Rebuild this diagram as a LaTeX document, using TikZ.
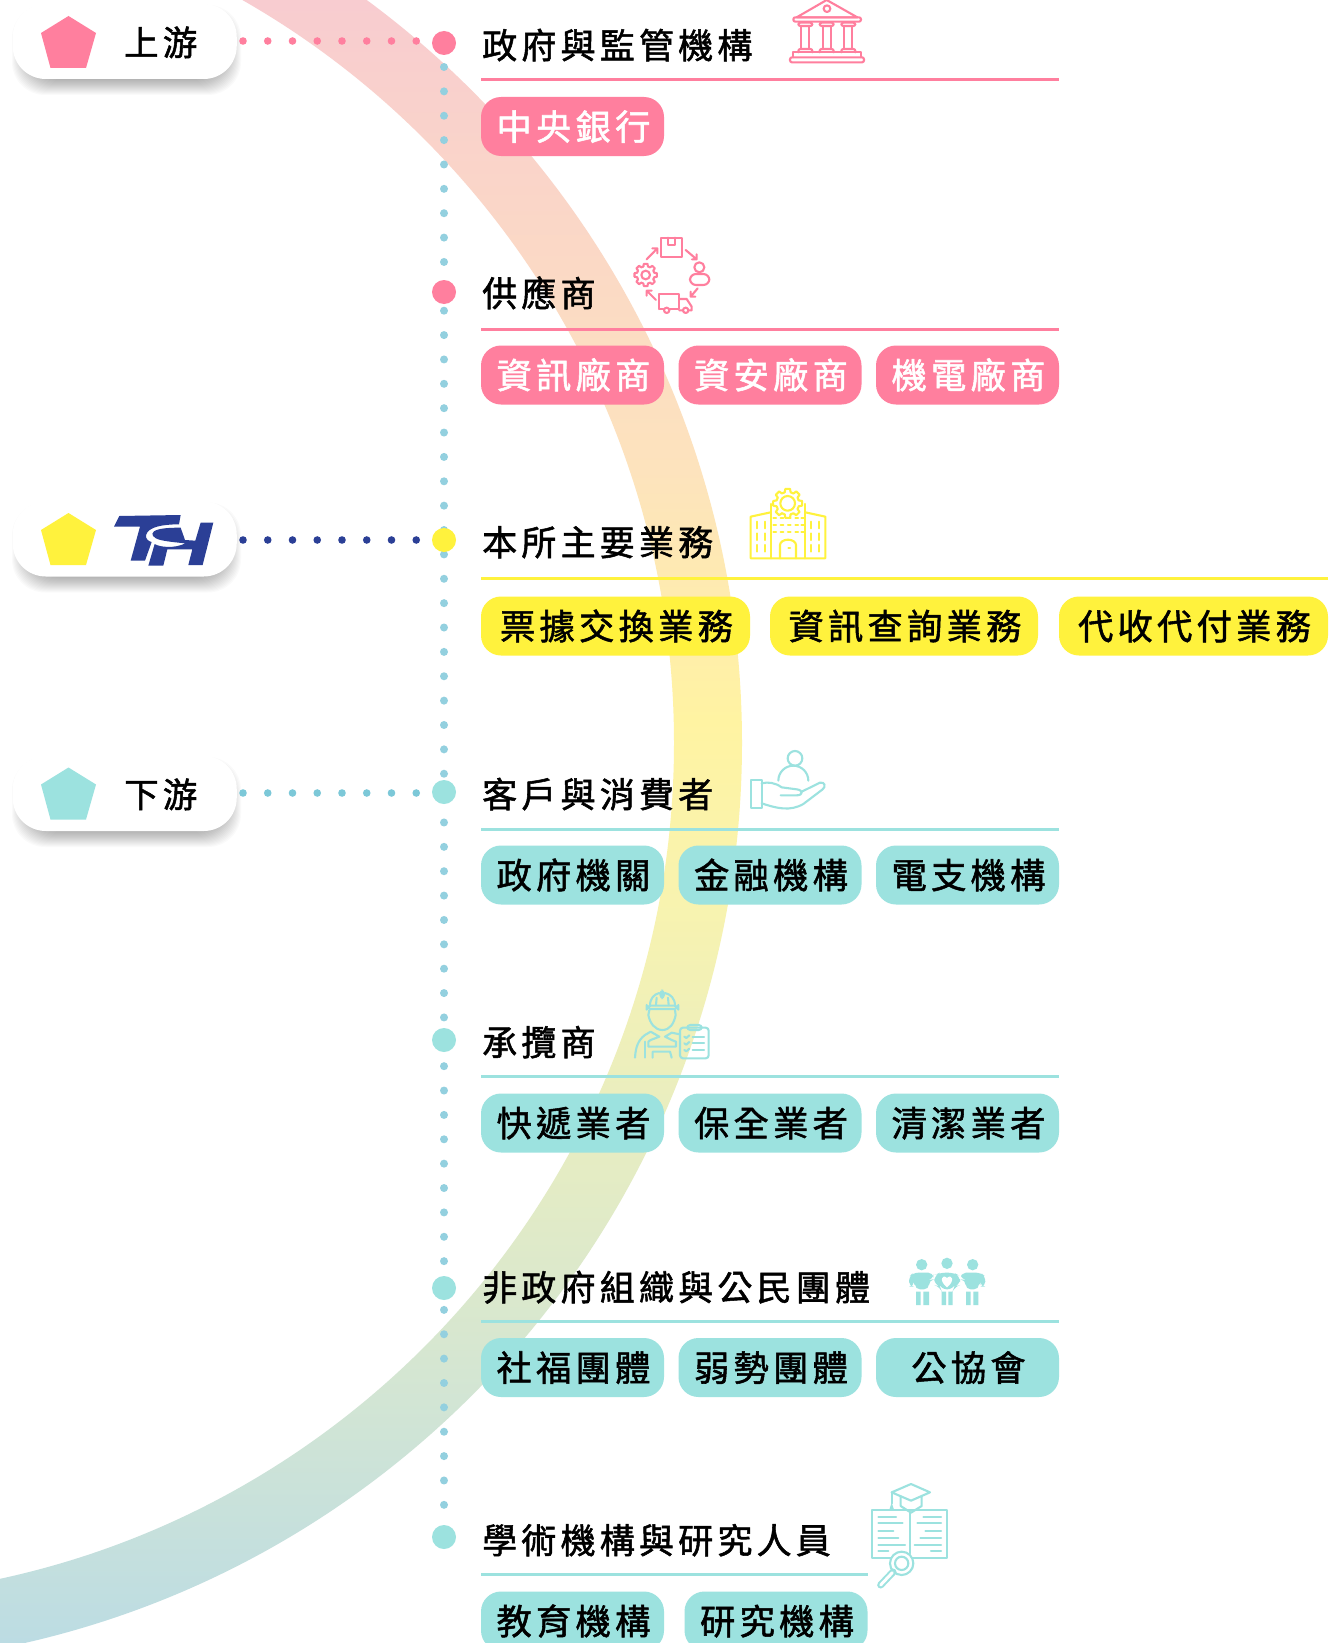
\documentclass[tikz,border=0pt]{standalone}
\usepackage{fontspec}
\usetikzlibrary{calc}
\newfontfamily\cjk[LetterSpace=12,FakeBold=1.5]{Noto Sans CJK TC}
\definecolor{pinkc}{HTML}{FF7F9E}
\definecolor{yellowc}{HTML}{FFF23D}
\definecolor{tealc}{HTML}{9CE2DF}
\definecolor{navyc}{HTML}{2B3F96}
\definecolor{dotc}{HTML}{93D0DF}
\definecolor{hdotc}{HTML}{7CC8D8}
\definecolor{bA}{HTML}{F8CCD0}
\definecolor{bB}{HTML}{FDE3BD}
\definecolor{bC}{HTML}{FFF3A2}
\definecolor{bD}{HTML}{F8F3AF}
\definecolor{bE}{HTML}{EAEEBF}
\definecolor{bF}{HTML}{D2E5D4}
\definecolor{bG}{HTML}{BCDCE3}
\pgfdeclareverticalshading{bandshade}{100bp}{color(0bp)=(bG); color(25bp)=(bG); color(32.4bp)=(bF); color(41.5bp)=(bE); color(47.6bp)=(bD); color(53.1bp)=(bC); color(60.7bp)=(bB); color(75bp)=(bA); color(100bp)=(bA)}
\tikzset{
  pill/.style={rounded corners=20pt,minimum height=59pt,inner sep=0pt,font=\cjk\fontsize{35.3}{35}\selectfont,text height=31pt,text depth=4pt},
  wpill/.style={pill,fill=white,rounded corners=33pt,minimum width=224pt,minimum height=75pt},
  ttl/.style={anchor=west,inner sep=0pt,text=black,font=\cjk\fontsize{35}{35}\selectfont,text height=31pt,text depth=4pt},
  lbl/.style={ttl,font=\cjk\fontsize{34.5}{35}\selectfont},
  hub/.style={circle,minimum size=24pt,inner sep=0pt},
  rule/.style={line width=3pt},
  hdots/.style={line width=7.6pt,line cap=round,dash pattern=on 0pt off 24.75pt},
  vdots/.style={dotc,line width=8pt,line cap=round,dash pattern=on 0pt off 24.37pt},
  icon/.style={line width=2.1pt,line join=round,line cap=round},
}
\newcommand\lblshadow[1]{\foreach \i in {0,...,15}{\fill[black,opacity=.02,rounded corners=33pt] (27-\i,#1+16-\i) rectangle (226+\i,#1+76+\i);}}
\newcommand\gearicon[3]{\begin{scope}[shift={(#1,#2)}]\foreach \a in {0,45,...,315}{\draw (\a-15:.78*#3) -- (\a-9:#3) -- (\a+9:#3) -- (\a+15:.78*#3) -- (\a+30:.78*#3);}\end{scope}}
\begin{document}
\begin{tikzpicture}[x=1pt,y=-1pt]
\useasboundingbox (0,0) rectangle (1340,1643);
\clip (0,0) rectangle (1340,1643);
\fill[white] (0,0) rectangle (1340,1643);
% band
\begin{scope}[even odd rule]
\clip (-181,743) circle (923) (-181,743) circle (855);
\shade[shading=bandshade] (0,0) rectangle (1340,1643);
\end{scope}
% vertical dots
\coordinate (vtop) at (444,67);
\coordinate (vbot) at (444,1507);
\draw[vdots] (vtop) -- (vbot);
% hubs
\node[hub,fill=pinkc] (c1) at (444,43) {};
\node[hub,fill=pinkc] (c2) at (444,292) {};
\node[hub,fill=yellowc] (c3) at (444,540) {};
\node[hub,fill=tealc] (c4) at (444,792) {};
\node[hub,fill=tealc] (c5) at (444,1040) {};
\node[hub,fill=tealc] (c6) at (444,1288) {};
\node[hub,fill=tealc] (c7) at (444,1537) {};
% left labels
\lblshadow{4}\lblshadow{501.5}\lblshadow{756}
\node[wpill] (up) at (124.75,41.5) {};
\node[wpill] (mid) at (124.75,539) {};
\node[wpill] (down) at (124.75,793.5) {};
\coordinate (h1) at (243,41);
\coordinate (h2) at (243,540);
\coordinate (h3) at (243,793);
\begin{scope}
\clip (236,0) rectangle (432,1643);
\draw[hdots,pinkc] (h1) -- (c1.center |- h1);
\draw[hdots,navyc] (h2) -- (c3.center |- h2);
\draw[hdots,hdotc] (h3) -- (c4.center |- h3);
\end{scope}
\fill[pinkc] (68.5,16) -- (96,33) -- (86,68) -- (50.5,68) -- (41,33) -- cycle;
\fill[yellowc] (68.5,513) -- (96,530) -- (86,565) -- (50.5,565) -- (41,530) -- cycle;
\fill[tealc] (68.5,767.5) -- (96,784.5) -- (86,819.5) -- (50.5,819.5) -- (41,784.5) -- cycle;
\node[lbl] (t-up) at (124,42) {上游};
\node[lbl] (t-down) at (124,794) {下游};
% logo
\begin{scope}[shift={(110,510)},scale=.3333]
\fill[navyc] (28,18) -- (212,15) -- (207,43) .. controls (160,43) and (115,50) .. (108,75) .. controls (106,88) and (118,95) .. (125,96) -- (105,152) -- (62,152) -- (90,50) -- (12,50) -- cycle;
\fill[navyc] (212,53) -- (225,90) -- (256,92) -- (272,38) -- (310,38) -- (278,165) -- (235,165) -- (247,118) -- (172,118) -- (160,167) -- (115,167) -- (134,102) .. controls (150,112) and (195,116) .. (226,100) .. controls (195,97) and (165,94) .. (148,89) .. controls (128,83) and (122,72) .. (132,64) .. controls (145,55) and (175,53) .. (212,53) -- cycle;
\end{scope}
% group 1
\node[ttl] (t1) at (482,45) {政府與監管機構};
\coordinate (r1a) at (481,80);\coordinate (r1b) at (1059,80);
\draw[rule,pinkc] (r1a) -- (r1b);
\node[pill,fill=pinkc,text=white,minimum width=183pt] (p11) at (572.5,126.5) {\hspace{2pt}中央銀行};
% group 2
\node[ttl] (t2) at (482,293) {供應商};
\coordinate (r2a) at (481,329);\coordinate (r2b) at (1059,329);
\draw[rule,pinkc] (r2a) -- (r2b);
\node[pill,fill=pinkc,text=white,minimum width=183pt] (p21) at (572.5,375) {\hspace{2pt}資訊廠商};
\node[pill,fill=pinkc,text=white,minimum width=183pt] (p22) at (770,375) {\hspace{2pt}資安廠商};
\node[pill,fill=pinkc,text=white,minimum width=183pt] (p23) at (967.5,375) {\hspace{2pt}機電廠商};
% group 3
\node[ttl] (t3) at (482,542) {本所主要業務};
\coordinate (r3a) at (481,578);\coordinate (r3b) at (1328,578);
\draw[rule,yellowc] (r3a) -- (r3b);
\node[pill,fill=yellowc,minimum width=269pt] (p31) at (615.5,626) {\hspace{2pt}票據交換業務};
\node[pill,fill=yellowc,minimum width=268pt] (p32) at (904,626) {\hspace{2pt}資訊查詢業務};
\node[pill,fill=yellowc,minimum width=269pt] (p33) at (1193.5,626) {\hspace{2pt}代收代付業務};
% group 4
\node[ttl] (t4) at (482,794) {客戶與消費者};
\coordinate (r4a) at (481,829);\coordinate (r4b) at (1059,829);
\draw[rule,tealc] (r4a) -- (r4b);
\node[pill,fill=tealc,minimum width=183pt] (p41) at (572.5,875) {\hspace{2pt}政府機關};
\node[pill,fill=tealc,minimum width=183pt] (p42) at (770,875) {\hspace{2pt}金融機構};
\node[pill,fill=tealc,minimum width=183pt] (p43) at (967.5,875) {\hspace{2pt}電支機構};
% group 5
\node[ttl] (t5) at (482,1042) {承攬商};
\coordinate (r5a) at (481,1076);\coordinate (r5b) at (1059,1076);
\draw[rule,tealc] (r5a) -- (r5b);
\node[pill,fill=tealc,minimum width=183pt] (p51) at (572.5,1123) {\hspace{2pt}快遞業者};
\node[pill,fill=tealc,minimum width=183pt] (p52) at (770,1123) {\hspace{2pt}保全業者};
\node[pill,fill=tealc,minimum width=183pt] (p53) at (967.5,1123) {\hspace{2pt}清潔業者};
% group 6
\node[ttl] (t6) at (482,1287) {非政府組織與公民團體};
\coordinate (r6a) at (481,1321);\coordinate (r6b) at (1059,1321);
\draw[rule,tealc] (r6a) -- (r6b);
\node[pill,fill=tealc,minimum width=183pt] (p61) at (572.5,1367.5) {\hspace{2pt}社福團體};
\node[pill,fill=tealc,minimum width=183pt] (p62) at (770,1367.5) {\hspace{2pt}弱勢團體};
\node[pill,fill=tealc,minimum width=183pt] (p63) at (967.5,1367.5) {\hspace{2pt}公協會};
% group 7
\node[ttl] (t7) at (482,1540) {學術機構與研究人員};
\coordinate (r7a) at (481,1574);\coordinate (r7b) at (868,1574);
\draw[rule,tealc] (r7a) -- (r7b);
\node[pill,fill=tealc,minimum width=183pt] (p71) at (572.5,1621) {\hspace{2pt}教育機構};
\node[pill,fill=tealc,minimum width=183pt] (p72) at (776,1621) {\hspace{2pt}研究機構};
% icon bank
\begin{scope}[shift={(780,0)},scale=.3333,icon,pinkc]
\draw (50,52) -- (140,0) -- (232,52) -- cycle;
\draw (141,26) circle (10);
\draw[rounded corners=2pt] (40,52) rectangle (243,65);
\foreach \x in {55,119,184}{
 \draw[rounded corners=2pt] (\x,68) rectangle (\x+42,78);
 \draw (\x+9,78) -- (\x+9,145) (\x+33,78) -- (\x+33,145);
 \draw[rounded corners=2pt] (\x,157) -- (\x,147) -- (\x+42,147) -- (\x+42,157);
}
\draw (40,172) -- (40,157) -- (243,157) -- (243,172);
\draw[rounded corners=2pt] (30,172) rectangle (252,187);
\end{scope}
% icon cycle
\begin{scope}[shift={(620,225)},scale=.3333,icon,pinkc]
\draw (122,38) rectangle (187,95);
\draw (143,38) -- (143,60) -- (165,60) -- (165,38);
\draw (197,75) -- (230,103) (230,88) -- (230,103) -- (216,103);
\draw (233,190) -- (212,215) (212,200) -- (212,215) -- (226,215);
\draw (108,225) -- (80,197) (80,212) -- (80,197) -- (95,197);
\draw (80,103) -- (112,70) (97,70) -- (112,70) -- (112,85);
\draw (238,127) circle (15);
\draw[rounded corners=6pt] (210,180) -- (210,147) -- (268,147) -- (268,180) -- cycle;
\gearicon{77}{150}{34}
\draw (77,150) circle (13);
\draw (118,252) -- (118,207) -- (178,207) -- (178,252) -- (150,252) (130,252) -- (118,252);
\draw (178,222) -- (200,222) -- (215,245) -- (215,256) -- (207,256) (187,256) -- (178,256);
\draw (140,256) circle (8) (197,256) circle (8);
\end{scope}
% icon building
\begin{scope}[shift={(740,480)},scale=.3333,icon,yellowc]
\gearicon{143}{70}{44}
\draw (143,70) circle (22);
\draw (92,72) -- (92,235) (196,72) -- (196,235);
\draw (92,97) -- (32,110) -- (32,235) -- (256,235) -- (256,110) -- (196,97);
\foreach \y in {115,135,155}{\foreach \x in {100,122,144,166,184}{\draw (\x,\y) -- (\x+8,\y);}}
\foreach \x in {50,74,212,236}{\foreach \y in {125,160,195}{\draw (\x,\y) -- (\x,\y+20);}}
\draw (120,235) -- (120,195) arc[start angle=180,end angle=360,x radius=24,y radius=16] -- (168,235);
\draw (145,205) -- (150,205);
\end{scope}
% icon hand
\begin{scope}[shift={(740,740)},scale=.3333,icon,tealc]
\draw (165,55) circle (22);
\draw (115,122) arc[start angle=180,end angle=360,x radius=45,y radius=45];
\draw (32,120) rectangle (65,205);
\draw (65,130) .. controls (85,125) and (105,128) .. (125,142) -- (170,148) .. controls (190,150) and (190,166) .. (170,166) -- (122,166);
\draw (185,155) -- (240,128) .. controls (255,125) and (258,140) .. (248,148) -- (190,192) .. controls (150,215) and (110,205) .. (65,190);
\end{scope}
% icon worker
\begin{scope}[shift={(630,985)},scale=.3333,icon,tealc]
\draw[rounded corners=4pt] (50,62) rectangle (145,72);
\draw (60,62) .. controls (60,40) and (72,28) .. (88,24) (105,24) .. controls (122,28) and (135,40) .. (135,62);
\fill[rounded corners=4pt] (88,14) rectangle (105,42);
\draw (78,60) -- (80,38) (116,60) -- (114,38);
\draw (58,75) -- (55,90) .. controls (60,115) and (75,135) .. (97,135) .. controls (120,135) and (132,115) .. (137,90) -- (135,75);
\draw (15,218) .. controls (17,185) and (25,165) .. (45,150) -- (62,140) -- (88,155) -- (62,165) -- (55,170) -- (55,185) -- (138,185) -- (138,170) -- (125,165) -- (105,155) -- (125,143) -- (150,148);
\draw (45,170) -- (45,218);
\draw (68,218) -- (68,200) -- (120,200) -- (125,218);
\draw[rounded corners=3pt] (150,128) rectangle (236,220);
\draw[rounded corners=3pt] (172,135) -- (172,120) -- (215,120) -- (215,135) -- cycle;
\draw (188,155) -- (222,155) (188,175) -- (222,175) (188,195) -- (222,195);
\foreach \y in {155,175,195}{\draw (163,\y) -- (169,\y+4) -- (178,\y-4);}
\end{scope}
% icon people
\begin{scope}[shift={(905,1250)},scale=.3333,tealc]
\fill (50,44) circle (17) (126,40) circle (17) (203,44) circle (17);
\fill[rounded corners=5pt] (12,110) -- (12,80) -- (25,68) -- (85,68) -- (85,88) -- (72,90) -- (72,118) -- (30,118) -- (30,90) -- (27,90) -- (27,110) -- cycle;
\fill (33,125) rectangle (47,165) (55,125) rectangle (72,165);
\fill[rounded corners=6pt] (88,105) -- (88,75) -- (105,68) -- (147,68) -- (165,78) -- (165,105) -- (148,110) -- (145,118) -- (108,118) -- (105,110) -- cycle;
\fill (110,125) rectangle (123,165) (130,125) rectangle (143,165);
\fill[white] (126,112) .. controls (100,92) and (112,70) .. (126,84) .. controls (140,70) and (152,92) .. (126,112) -- cycle;
\fill[rounded corners=5pt] (241,110) -- (241,80) -- (228,68) -- (168,68) -- (168,88) -- (182,90) -- (182,118) -- (222,118) -- (222,90) -- (226,90) -- (226,110) -- cycle;
\fill (183,125) rectangle (197,165) (205,125) rectangle (220,165);
\end{scope}
% icon book
\begin{scope}[shift={(840,1460)},scale=.3333,icon,tealc]
\draw (155,97) -- (213,72) -- (270,97) -- (213,122) -- cycle;
\draw (182,108) -- (182,138) -- (213,158) -- (245,138) -- (245,108);
\draw (155,97) -- (155,130);
\fill (147,152) -- (155,128) -- (163,152) -- cycle;
\draw (97,150) rectangle (320,295);
\draw (210,158) -- (210,280);
\foreach \y/\a/\b in {170/115/168,190/115/188,212/115/160,233/115/175,254/115/195,274/115/145,170/250/303,190/232/303,212/256/303,233/241/303,254/224/303,274/273/303}{\draw (\a,\y) -- (\b,\y);}
\fill[white] (185,310) circle (36);
\draw (185,310) circle (35) (185,310) circle (20);
\draw[line width=7pt] (159,336) -- (122,375);
\draw[white,line width=3pt] (157,338) -- (122,375);
\end{scope}
\end{tikzpicture}
\end{document}
